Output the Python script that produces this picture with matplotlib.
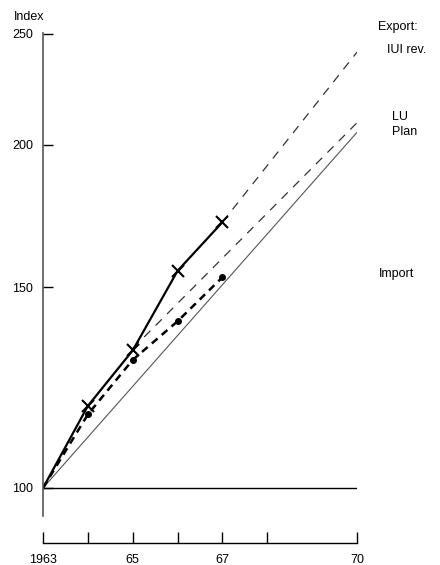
import matplotlib
matplotlib.use("Agg")
import matplotlib.pyplot as plt
from matplotlib.ticker import NullLocator

plt.rcParams['font.family'] = ['Liberation Sans', 'DejaVu Sans']

# Data (index, 1963 = 100)
iui_years = [1963, 1964, 1965, 1966, 1967]
iui_values = [100, 118, 132, 155, 171]
iui_proj_years = [1967, 1970]
iui_proj_values = [171, 241]

lu_years = [1963, 1964, 1965, 1966, 1967]
lu_values = [100, 116, 129.5, 140, 153]
lu_plan_years = [1965, 1970]
lu_plan_values = [132.5, 209]

import_years = [1963, 1970]
import_values = [100, 205]

y_ticks = [100, 150, 200, 250]
y_ticklabels = ['100', '150', '200', '250']
x_ticks = [1963, 1964, 1965, 1966, 1967, 1968, 1970]
x_ticklabels = ['1963', '', '65', '', '67', '', '70']

W, H = 440, 565
fig = plt.figure(figsize=(W / 100, H / 100), dpi=100)

def fx(px):
    return px / W

def fy(py):
    return 1 - py / H

ax = fig.add_axes([fx(43), fy(516), (357 - 43) / W, (516 - 33) / H])
ax.set_yscale('log')
ax.set_xlim(1963, 1970)
ax.set_ylim(94.5, 250.5)
for s in ['top', 'right', 'bottom']:
    ax.spines[s].set_visible(False)
ax.spines['left'].set_color('#555555')
ax.spines['left'].set_linewidth(1.2)
ax.set_xticks([])
ax.yaxis.set_minor_locator(NullLocator())
ax.set_yticks(y_ticks)
ax.set_yticklabels(y_ticklabels)
ax.tick_params(axis='y', direction='in', length=7, width=1, pad=7,
               labelsize=9, color='black')
ax.axhline(100, color='black', lw=1)

# Import
ax.plot(import_years, import_values, color='#555555', lw=0.8, solid_capstyle='butt')
# LU plan projection
ax.plot(lu_plan_years, lu_plan_values, color='#333333', lw=0.9,
        dashes=(7, 6))
# IUI rev projection
ax.plot(iui_proj_years, iui_proj_values, color='#333333', lw=0.9,
        dashes=(7, 6))
# LU actual
ax.plot(lu_years, lu_values, color='black', lw=1.8, dashes=(3, 2.2),
        marker='o', markersize=4, markevery=slice(1, None))
# IUI rev actual
ax.plot(iui_years, iui_values, color='black', lw=1.6, marker='x',
        markersize=9, markeredgewidth=1.5, markevery=slice(1, None))

# bottom time axis
ax2 = fig.add_axes([fx(43), fy(543), (357 - 43) / W, 0.01])
for s in ['top', 'right', 'left']:
    ax2.spines[s].set_visible(False)
ax2.spines['bottom'].set_linewidth(1)
ax2.set_xlim(1963, 1970)
ax2.set_yticks([])
ax2.set_xticks(x_ticks)
ax2.set_xticklabels(x_ticklabels)
ax2.tick_params(axis='x', direction='in', length=8, width=1, pad=8,
                labelsize=9)
ax2.patch.set_visible(False)

fs = 9
fig.text(fx(14), fy(17), 'Index', fontsize=fs, va='center', ha='left')
fig.text(fx(378), fy(27), 'Export:', fontsize=fs, va='center', ha='left')
fig.text(fx(387), fy(50), 'IUI rev.', fontsize=fs, va='center', ha='left')
fig.text(fx(392), fy(117), 'LU', fontsize=fs, va='center', ha='left')
fig.text(fx(392), fy(132), 'Plan', fontsize=fs, va='center', ha='left')
fig.text(fx(379), fy(274), 'Import', fontsize=fs, va='center', ha='left')

fig.savefig('out.png', dpi=100)
